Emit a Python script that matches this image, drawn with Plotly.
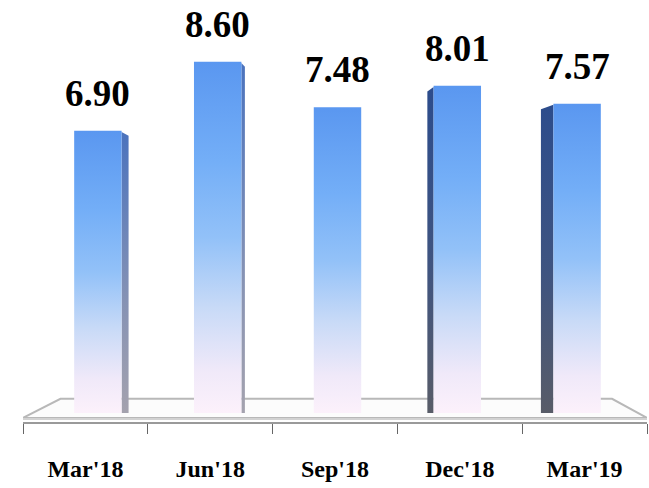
import plotly.graph_objects as go

categories = ["Mar'18", "Jun'18", "Sep'18", "Dec'18", "Mar'19"]
values = [6.90, 8.60, 7.48, 8.01, 7.57]
value_labels = ["6.90", "8.60", "7.48", "8.01", "7.57"]

front_scale = [[0, '#fcf1fb'], [0.12, '#f0e9f9'], [0.3, '#c8daf7'], [0.5, '#92c1f8'],
               [0.72, '#73aef7'], [1, '#5a97f0']]
right_side_scale = [[0, '#a4a2ae'], [0.4, '#8592b4'], [1, '#4a72bd']]
left_side_scale = [[0, '#585c68'], [0.45, '#3f5480'], [1, '#2c4c8c']]

fig = go.Figure()

base = -0.05
half = 0.19
for i, v in enumerate(values):
    shift = 0.02 + (2 - i) * 0.04
    x0, x1 = i + shift - half, i + shift + half
    if i < 2:
        side = (2 - i) * 0.028
        sx = [x1, x1 + side, x1 + side, x1, x1]
        sy = [base, base, v - 0.12, v - 0.03, base]
        scale = right_side_scale
    elif i > 2:
        side = (i - 2) * 0.05
        sx = [x0 - side, x0, x0, x0 - side, x0 - side]
        sy = [base, base, v - 0.03, v - 0.14, base]
        scale = left_side_scale
    else:
        sx = None
    if sx is not None:
        fig.add_trace(go.Scatter(
            x=sx, y=sy, mode='lines', fill='toself', line=dict(width=0),
            fillgradient=dict(type='vertical', colorscale=scale, start=base, stop=v),
            hoverinfo='skip', showlegend=False))
    fig.add_trace(go.Scatter(
        x=[x0, x1, x1, x0, x0], y=[base, base, v, v, base], mode='lines',
        fill='toself', line=dict(width=0),
        fillgradient=dict(type='vertical', colorscale=front_scale, start=base, stop=v),
        hoverinfo='skip', showlegend=False))
    fig.add_annotation(x=i + shift, y=v, text=value_labels[i], showarrow=False,
                       yanchor='bottom', yshift=15,
                       font=dict(family='Liberation Serif', size=37, color='black', weight='bold'))

# floor slab
fig.add_shape(type='path', layer='below',
              path='M -0.5,-0.17 L -0.2,0.30 L 4.22,0.30 L 4.5,-0.17 Z',
              fillcolor='#fcfcfc', line=dict(color='#b8b8b8', width=2))
fig.add_shape(type='line', layer='below', x0=-0.5, x1=4.5, y0=-0.2, y1=-0.2,
              line=dict(color='#d2d2d2', width=2))

fig.update_xaxes(range=[-0.5, 4.5], tickmode='array', tickvals=list(range(len(categories))),
                 ticktext=categories, ticks='', showline=True, linecolor='#9a9a9a', linewidth=2,
                 showgrid=False, zeroline=False, ticklabelstandoff=24,
                 tickfont=dict(family='Liberation Serif', size=24, color='black', weight='bold'),
                 minor=dict(tickmode='array', tickvals=[-0.5, 0.5, 1.5, 2.5, 3.5, 4.5],
                            ticks='outside', ticklen=10, tickcolor='#666666', tickwidth=1,
                            showgrid=False))
fig.update_yaxes(range=[-0.271, 10.123], visible=False, showgrid=False, zeroline=False)

fig.update_layout(width=649, height=488, margin=dict(l=23, r=2, t=0, b=66),
                  plot_bgcolor='white', paper_bgcolor='white')

fig.write_html("out.html")
